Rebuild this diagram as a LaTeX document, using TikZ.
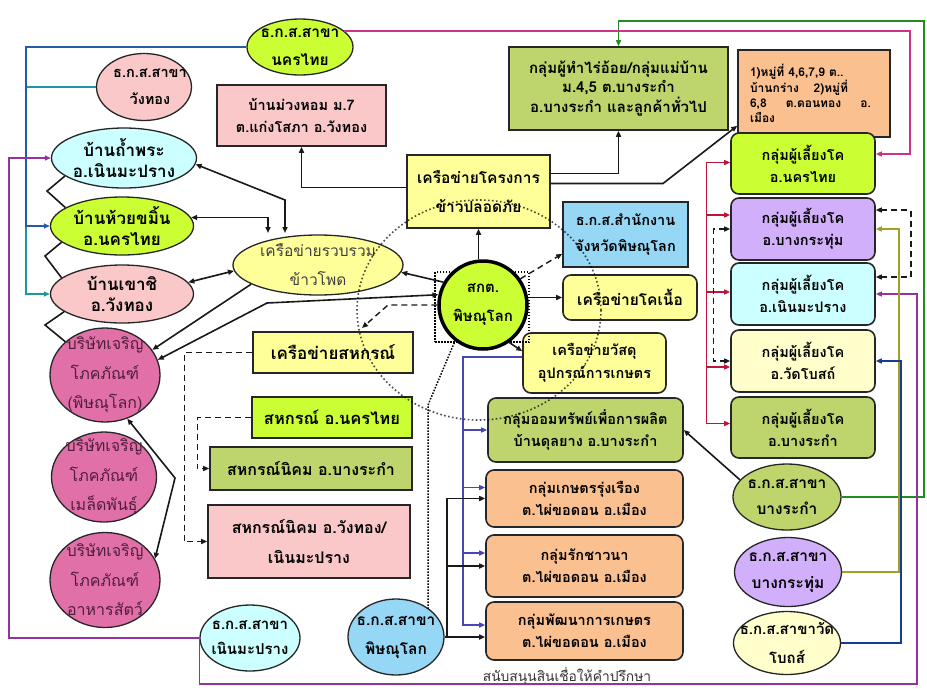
\documentclass[tikz,border=0pt]{standalone}
\usepackage{fontspec}
\newfontfamily\thai[Script=Thai]{Loma}
\usetikzlibrary{shapes.geometric,arrows.meta,calc}
\definecolor{cGY}{RGB}{204,255,51}
\definecolor{cOlive}{RGB}{190,212,108}
\definecolor{cPink}{RGB}{250,200,200}
\definecolor{cCyan}{RGB}{204,255,255}
\definecolor{cYel}{RGB}{255,255,153}
\definecolor{cPaleY}{RGB}{255,255,204}
\definecolor{cLBlue}{RGB}{150,215,245}
\definecolor{cLav}{RGB}{210,175,250}
\definecolor{cOrange}{RGB}{250,192,144}
\definecolor{cHot}{RGB}{226,112,168}
\definecolor{cComp}{RGB}{80,30,60}
\definecolor{cGreenL}{RGB}{34,139,34}
\definecolor{cMag}{RGB}{204,51,136}
\definecolor{cBlueL}{RGB}{40,90,170}
\definecolor{cTeal}{RGB}{30,150,160}
\definecolor{cPurL}{RGB}{150,50,160}
\definecolor{cOliveL}{RGB}{160,160,40}
\definecolor{cNavy}{RGB}{20,60,150}
\definecolor{cRed}{RGB}{190,20,60}
\definecolor{cInd}{RGB}{70,70,180}
\tikzset{
  >={Triangle[length=6pt,width=5pt]},
  sz/.style 2 args={minimum width=#1, minimum height=#2},
  fs/.style 2 args={font=\thai\bfseries\fontsize{#1}{#2}\selectfont},
  fr/.style 2 args={font=\thai\fontsize{#1}{#2}\selectfont},
  bx/.style={draw=black!85, line width=1.6pt, inner sep=0pt, align=center, fs={14.5}{22}},
  rbx/.style={bx, rounded corners=8pt},
  el/.style={bx, ellipse, line width=1.3pt, inner sep=-12pt},
  ln/.style={line width=1.6pt, draw=black!90},
  arr/.style={ln, ->},
  dsh/.style={line width=1.4pt, draw=black!90, dash pattern=on 6pt off 4pt},
  cl/.style={line width=1.4pt, draw=#1},
  dotln/.style={line width=1.5pt, draw=black, dash pattern=on 1.5pt off 1.5pt}
}
\begin{document}
\begin{tikzpicture}[x=1pt,y=-1pt]
\useasboundingbox (0,0) rectangle (927,689);
\fill[white] (0,0) rectangle (927,689);

% ---- top nodes
\node[el, fill=cGY, sz={106}{56}, fs={15.5}{28}] (Enkt) at (300,47) {ธ.ก.ส.สาขา\\นครไทย};
\node[el, fill=cPink, sz={95}{67}, fs={14.5}{27}] (Ewt) at (144,87) {\hspace*{12pt}ธ.ก.ส.สาขา\\\hspace*{12pt}วังทอง};
\node[bx, fill=cPink, sz={169}{61}] (Rmh) at (301.5,115.5) {บ้านม่วงหอม ม.7\\ต.แก่งโสภา อ.วังทอง};
\node[bx, fill=cOlive, sz={219}{83}, fs={15}{19.5}] (Rtg) at (618.5,88.5) {กลุ่มผู้ทำไร่อ้อย/กลุ่มแม่บ้าน\\ม.4,5 ต.บางระกำ\\อ.บางระกำ และลูกค้าทั่วไป};
\node[bx, fill=cOrange, sz={152}{87}, fs={12}{15}, text width=128pt, align=left] (Ror) at (814,93.5)
  {1)หมู่ที่ 4,6,7,9 ต..\\\leavevmode\hbox to 98pt{บ้านกร่าง\hfill 2)หมู่ที่}\\\leavevmode\hbox to 121pt{6,8\hfill ต.ดอนทอง\hfill อ.}\\เมือง};

% ---- right groups
\node[rbx, fill=cGY, sz={144}{61}] (G1) at (803,163.5) {กลุ่มผู้เลี้ยงโค\\อ.นครไทย};
\node[rbx, fill=cLav, sz={144}{62}] (G2) at (803,229) {กลุ่มผู้เลี้ยงโค\\อ.บางกระทุ่ม};
\node[rbx, fill=cCyan, sz={144}{62}] (G3) at (803,294) {กลุ่มผู้เลี้ยงโค\\อ.เนินมะปราง};
\node[rbx, fill=cPaleY, sz={144}{62}] (G4) at (803,361) {กลุ่มผู้เลี้ยงโค\\อ.วัดโบสถ์};
\node[rbx, fill=cOlive, sz={144}{61}] (G5) at (803,427.5) {กลุ่มผู้เลี้ยงโค\\อ.บางระกำ};

% ---- left ellipses
\node[el, fill=cCyan, sz={145}{60}, fs={17}{21}] (Etp) at (124,158) {บ้านถ้ำพระ\\อ.เนินมะปราง};
\node[el, fill=cGY, sz={143}{58}, fs={17}{21}] (Ehk) at (122,226) {บ้านห้วยขมิ้น\\อ.นครไทย};
\node[el, fill=cPink, sz={143}{58}, fs={17}{21}] (Ekc) at (122,294) {บ้านเขาชิ\\อ.วังทอง};
\node[el, fill=cHot, sz={110}{94}, fr={16}{29.5}, text=cComp] (Co1) at (105,375) {บริษัทเจริญ\\โภคภัณฑ์\\(พิษณุโลก)};
\node[el, fill=cHot, sz={105}{90}, fr={16}{29.5}, text=cComp] (Co2) at (104,477) {บริษัทเจริญ\\โภคภัณฑ์\\เมล็ดพันธุ์};
\node[el, fill=cHot, sz={110}{95}, fr={16}{29.5}, text=cComp] (Co3) at (105,580) {บริษัทเจริญ\\โภคภัณฑ์\\อาหารสัตว์};

% ---- bottom banks
\node[el, fill=cCyan, sz={100}{66}, fs={15}{25}] (Bnm) at (250,638) {ธ.ก.ส.สาขา\\เนินมะปราง};
\node[el, fill=cLBlue, sz={96}{76}, fs={15.5}{29}] (Bpl) at (396,637) {ธ.ก.ส.สาขา\\พิษณุโลก};

% ---- centre
\node[bx, fill=cYel, sz={143}{73}, fs={15.5}{29}] (Rsafe) at (478.5,191.5) {เครือข่ายโครงการ\\ข้าวปลอดภัย};
\node[bx, fill=cLBlue, sz={125}{65}, fs={14.5}{26}] (Rbo) at (625.5,234.5) {ธ.ก.ส.สำนักงาน\\จังหวัดพิษณุโลก};
\node[rbx, fill=cYel, sz={134}{45}, fs={15.5}{22}] (Rbeef) at (630,297.5) {เครือข่ายโคเนื้อ};
\node[rbx, fill=cYel, sz={143}{60}, fs={14.5}{23}] (Req) at (594.5,363) {เครือข่ายวัสดุ\\อุปกรณ์การเกษตร};
\node[draw, line width=1.5pt, dash pattern=on 1.5pt off 1.5pt, sz={94}{70}, inner sep=0pt] (DR) at (482,307) {};
\node[circle, draw=black, line width=3.5pt, fill=cGY, minimum size=88pt, inner sep=0pt, align=center, fs={15}{29}] (C) at (483,305) {สกต.\\พิษณุโลก};
\node[el, fill=cYel, sz={170}{60}, fr={15.5}{29}, text=black!75] (Ecorn) at (318,265) {เครือข่ายรวบรวม\\ข้าวโพด};

% ---- cooperatives
\node[bx, fill=cYel, sz={160}{41}, fs={17}{22}] (Rcn) at (333,352.5) {เครือข่ายสหกรณ์};
\node[bx, fill=cGY, sz={160}{41}, fs={16.5}{22}] (Rcnk) at (332,417.5) {สหกรณ์ อ.นครไทย};
\node[bx, fill=cOlive, sz={202}{43}, fs={16}{22}] (Rcbr) at (311,468.5) {สหกรณ์นิคม อ.บางระกำ};
\node[bx, fill=cPink, sz={202}{73}, fs={16}{30}] (Rcwt) at (309,541.5) {สหกรณ์นิคม อ.วังทอง/\\เนินมะปราง};

% ---- lower middle
\node[rbx, fill=cOlive, sz={195}{64}] (Rsav) at (585.5,430) {กลุ่มออมทรัพย์เพื่อการผลิต\\บ้านดุลยาง อ.บางระกำ};
\node[rbx, fill=cOrange, sz={197}{57}] (O1) at (584.5,498.5) {กลุ่มเกษตรรุ่งเรือง\\ต.ไผ่ขอดอน อ.เมือง};
\node[rbx, fill=cOrange, sz={197}{62}] (O2) at (584.5,566) {กลุ่มรักชาวนา\\ต.ไผ่ขอดอน อ.เมือง};
\node[rbx, fill=cOrange, sz={197}{58}] (O3) at (584.5,631) {กลุ่มพัฒนาการเกษตร\\ต.ไผ่ขอดอน อ.เมือง};
\node[fr={13.8}{16}, text=black!80, inner sep=0pt] (note) at (567,676) {สนับสนุนสินเชื่อให้คำปรึกษา};

% ---- right banks
\node[el, fill=cOlive, sz={108}{66}, fs={15.5}{26}] (Bbr) at (787,497) {ธ.ก.ส.สาขา\\บางระกำ};
\node[el, fill=cLav, sz={107}{69}, fs={15.5}{27}] (Bbk) at (788,572) {ธ.ก.ส.สาขา\\บางกระทุ่ม};
\node[el, fill=cPaleY, sz={107}{63}, fs={15}{29}] (Bwb) at (787,643) {ธ.ก.ส.สาขาวัด\\โบถส์};

% ================= connectors
\coordinate (gA) at (924,497);
\coordinate (gC) at (618.5,21);
\draw[cl=cGreenL,->] (Bbr.east) -- (gA) |- (gC) -- (Rtg.north);
\coordinate (mA) at (910,154);
\draw[cl=cMag,->] (Enkt.20) -- (Enkt.20 -| mA) -- (mA) -- (G1.east |- mA);
\draw[cl=cTeal,->] (Ewt.west) -| ($(Ekc.west)+(-24,0)$) -- (Ekc.west);
\draw[cl=cBlueL,->] (Enkt.west) -| ($(Ehk.west)+(-24,0)$) -- (Ehk.west);
\draw[cl=cPurL,->] (Bnm.west) -| ($(Etp.west)+(-42,0)$) -- (Etp.west);
\coordinate (pB) at (917,684);
\draw[cl=cPurL,->] (Bnm.west) |- (pB) |- (G3.east);
\draw[cl=cOliveL,->] (Bbk.east) -| ($(G2.east)+(23,0)$) -- (G2.east);
\draw[cl=cNavy,->] (Bwb.east) -| ($(G4.east)+(25,0)$) -- (G4.east);
\draw[dsh,<->] ($(G2.east)+(0,-19)$) -- ++(35,0) |- ($(G3.east)+(0,-17)$);
\draw[cl=cRed] ($(G1.west)+(-24,-1)$) -- ($(G5.west)+(-24,-4)$);
\foreach \n/\d in {G1/-1,G2/-14,G3/-2,G4/6,G5/-4}
  \draw[cl=cRed,->] ($(\n.west)+(-24,\d)$) -- ($(\n.west)+(0,\d)$);
\draw[dsh,<->] (G2.west) -- ++(-17,0) |- (G4.west);

\draw[arr] ($(Rsafe.west)+(0,-4)$) -| (Rmh.south);
\draw[arr] ($(Rsafe.east)+(0,-18)$) -| (Rtg.south);
\coordinate (sB) at (663,183.5);
\draw[arr] ($(Rsafe.east)+(0,-8)$) -- (sB) -- ($(Ror.south west)+(0,-12)$);

\draw[arr] (C.north -| Rsafe.south) -- (Rsafe.south);
\draw[dsh,->] (C.35) -- ($(Rbo.south west)+(0,-14)$);
\draw[arr] (C.east |- Rbeef.west) -- (Rbeef.west);
\draw[arr] (C.-55) -- ($(Req.north west)+(0,19)$);
\draw[arr] (C.150) -- (Ecorn.-5);
\coordinate (cbB) at (267,303);
\draw[ln,<->] (C.167) -- (cbB) -- (Co1.16);
\draw[arr] (Ecorn.196) -- (Co1.28);
\coordinate (tpB) at (285,200);
\coordinate (tpC) at (285,233);
\draw[ln,<->] (Etp.-5) -- (tpB) -- (tpC);
\coordinate (hkB) at (268,233);
\draw[ln,<->] (Ehk.7) -| (hkB);
\draw[ln,<->] (Ekc.10) -- (Ecorn.184);

\coordinate (z1) at (47,191);
\draw[ln] (Etp.197) -- (z1) -- (Ehk.162);
\coordinate (z2) at (45,256);
\draw[ln] (Ehk.195) -- (z2) -- (Ekc.165);
\coordinate (z3) at (45,325);
\draw[ln] (Ekc.197) -- (z3) -- (Co1.140);
\coordinate (ccB) at (175,478);
\draw[ln,<->] (Co1.-63) -- (ccB) -- (Co3.23);

\coordinate (cnB) at (388,305);
\coordinate (cnC) at (362,328);
\draw[dsh,->] (C.west) -- (cnB) -- (cnC);
\draw[dsh,->] (Rcn.west) -- ++(-68,0) |- (Rcwt.west);
\draw[dsh,->] (Rcnk.west) -- ++(-54,0) |- (Rcbr.west);

\coordinate (dB) at (428,405);
\draw[dotln] ($(DR.south west)+(20,0)$) -- (dB) -- ($(Bpl.center)+(32,-28)$);

\coordinate (iB) at (463,625);
\draw[cl=cInd] ($(Req.west)+(0,-6)$) -| (iB);
\draw[cl=cInd,->] (iB |- Rsav.west) -- (Rsav.west);
\draw[cl=cInd,->] ($(O1.west)+(-23,-11)$) -- ($(O1.west)+(0,-11)$);
\draw[cl=cInd,->] ($(O2.west)+(-23,-13)$) -- ($(O2.west)+(0,-13)$);
\draw[cl=cInd,->] ($(O3.west)+(-23,-6)$) -- ($(O3.west)+(0,-6)$);

\coordinate (pv) at (447,637);
\draw[arr] (Bpl.east) -- (O3.west |- Bpl.east);
\draw[arr] (pv) |- (O1.west);
\draw[arr] (pv) |- (O2.west);
\draw[arr] (Bbr.160) -- (Rsav.east);

% big dotted ellipse
\draw[black, opacity=0.7, line width=1.6pt, dash pattern=on 1.6pt off 2.4pt] (479,310) ellipse [x radius=122, y radius=110];
\end{tikzpicture}
\end{document}
